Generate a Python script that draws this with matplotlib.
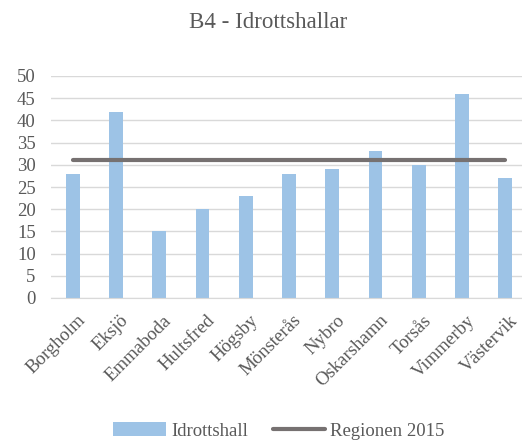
import matplotlib

matplotlib.use("Agg")
import matplotlib.pyplot as plt
import matplotlib.transforms as mtransforms
import numpy as np

plt.rcParams["font.family"] = ["Liberation Serif", "DejaVu Serif"]

# ── Data ───────────────────────────────────────────────────────────────────
kommuner = ["Borgholm", "Eksjö", "Emmaboda", "Hultsfred", "Högsby", "Mönsterås",
            "Nybro", "Oskarshamn", "Torsås", "Vimmerby", "Västervik"]
idrottshall = [28, 42, 15, 20, 23, 28, 29, 33, 30, 46, 27]
regionen_2015 = [31] * len(kommuner)
yticks = [0, 5, 10, 15, 20, 25, 30, 35, 40, 45, 50]

W, H = 522, 441
fig = plt.figure(figsize=(W / 100, H / 100), dpi=100)
ax = fig.add_axes([51 / W, 1 - 298 / H, 476 / W, 222 / H])

x = np.arange(len(kommuner))
bars = ax.bar(x, idrottshall, width=0.32, color="#9DC3E6", label="Idrottshall", zorder=2)
(line,) = ax.plot(x, regionen_2015, color="#767171", lw=3, solid_capstyle="round",
                  label="Regionen 2015", zorder=3)

ax.set_xlim(-0.5, len(kommuner) - 0.5)
ax.set_ylim(0, 50)
ax.set_yticks(yticks)
ax.grid(axis="y", color="#D9D9D9", lw=1, zorder=0)
ax.set_axisbelow(True)
for s in ("top", "right", "left"):
    ax.spines[s].set_visible(False)
ax.spines["bottom"].set_color("#D9D9D9")
ax.tick_params(axis="both", length=0, colors="#595959", labelsize=13.5)
ax.tick_params(axis="y", pad=11)
ax.set_xticks(x)
ax.set_xticklabels(kommuner, rotation=45, ha="right", rotation_mode="anchor")
ax.tick_params(axis="x", pad=10)
# nudge rotated labels slightly right, like the original
shift = mtransforms.ScaledTranslation(4 / 100, 0, fig.dpi_scale_trans)
for lbl in ax.get_xticklabels():
    lbl.set_transform(lbl.get_transform() + shift)

fig.text(268 / W, 1 - 22 / H, "B4 - Idrottshallar", ha="center", va="center",
         fontsize=16.5, color="#595959")

fig.legend([bars, line], ["Idrottshall", "Regionen 2015"], loc="center",
           bbox_to_anchor=(279 / W, 1 - 431 / H), ncol=2,
           frameon=False, fontsize=13.5, labelcolor="#595959",
           handlelength=2.8, handletextpad=0.27, columnspacing=1.33)

fig.savefig("out.png", dpi=100)
